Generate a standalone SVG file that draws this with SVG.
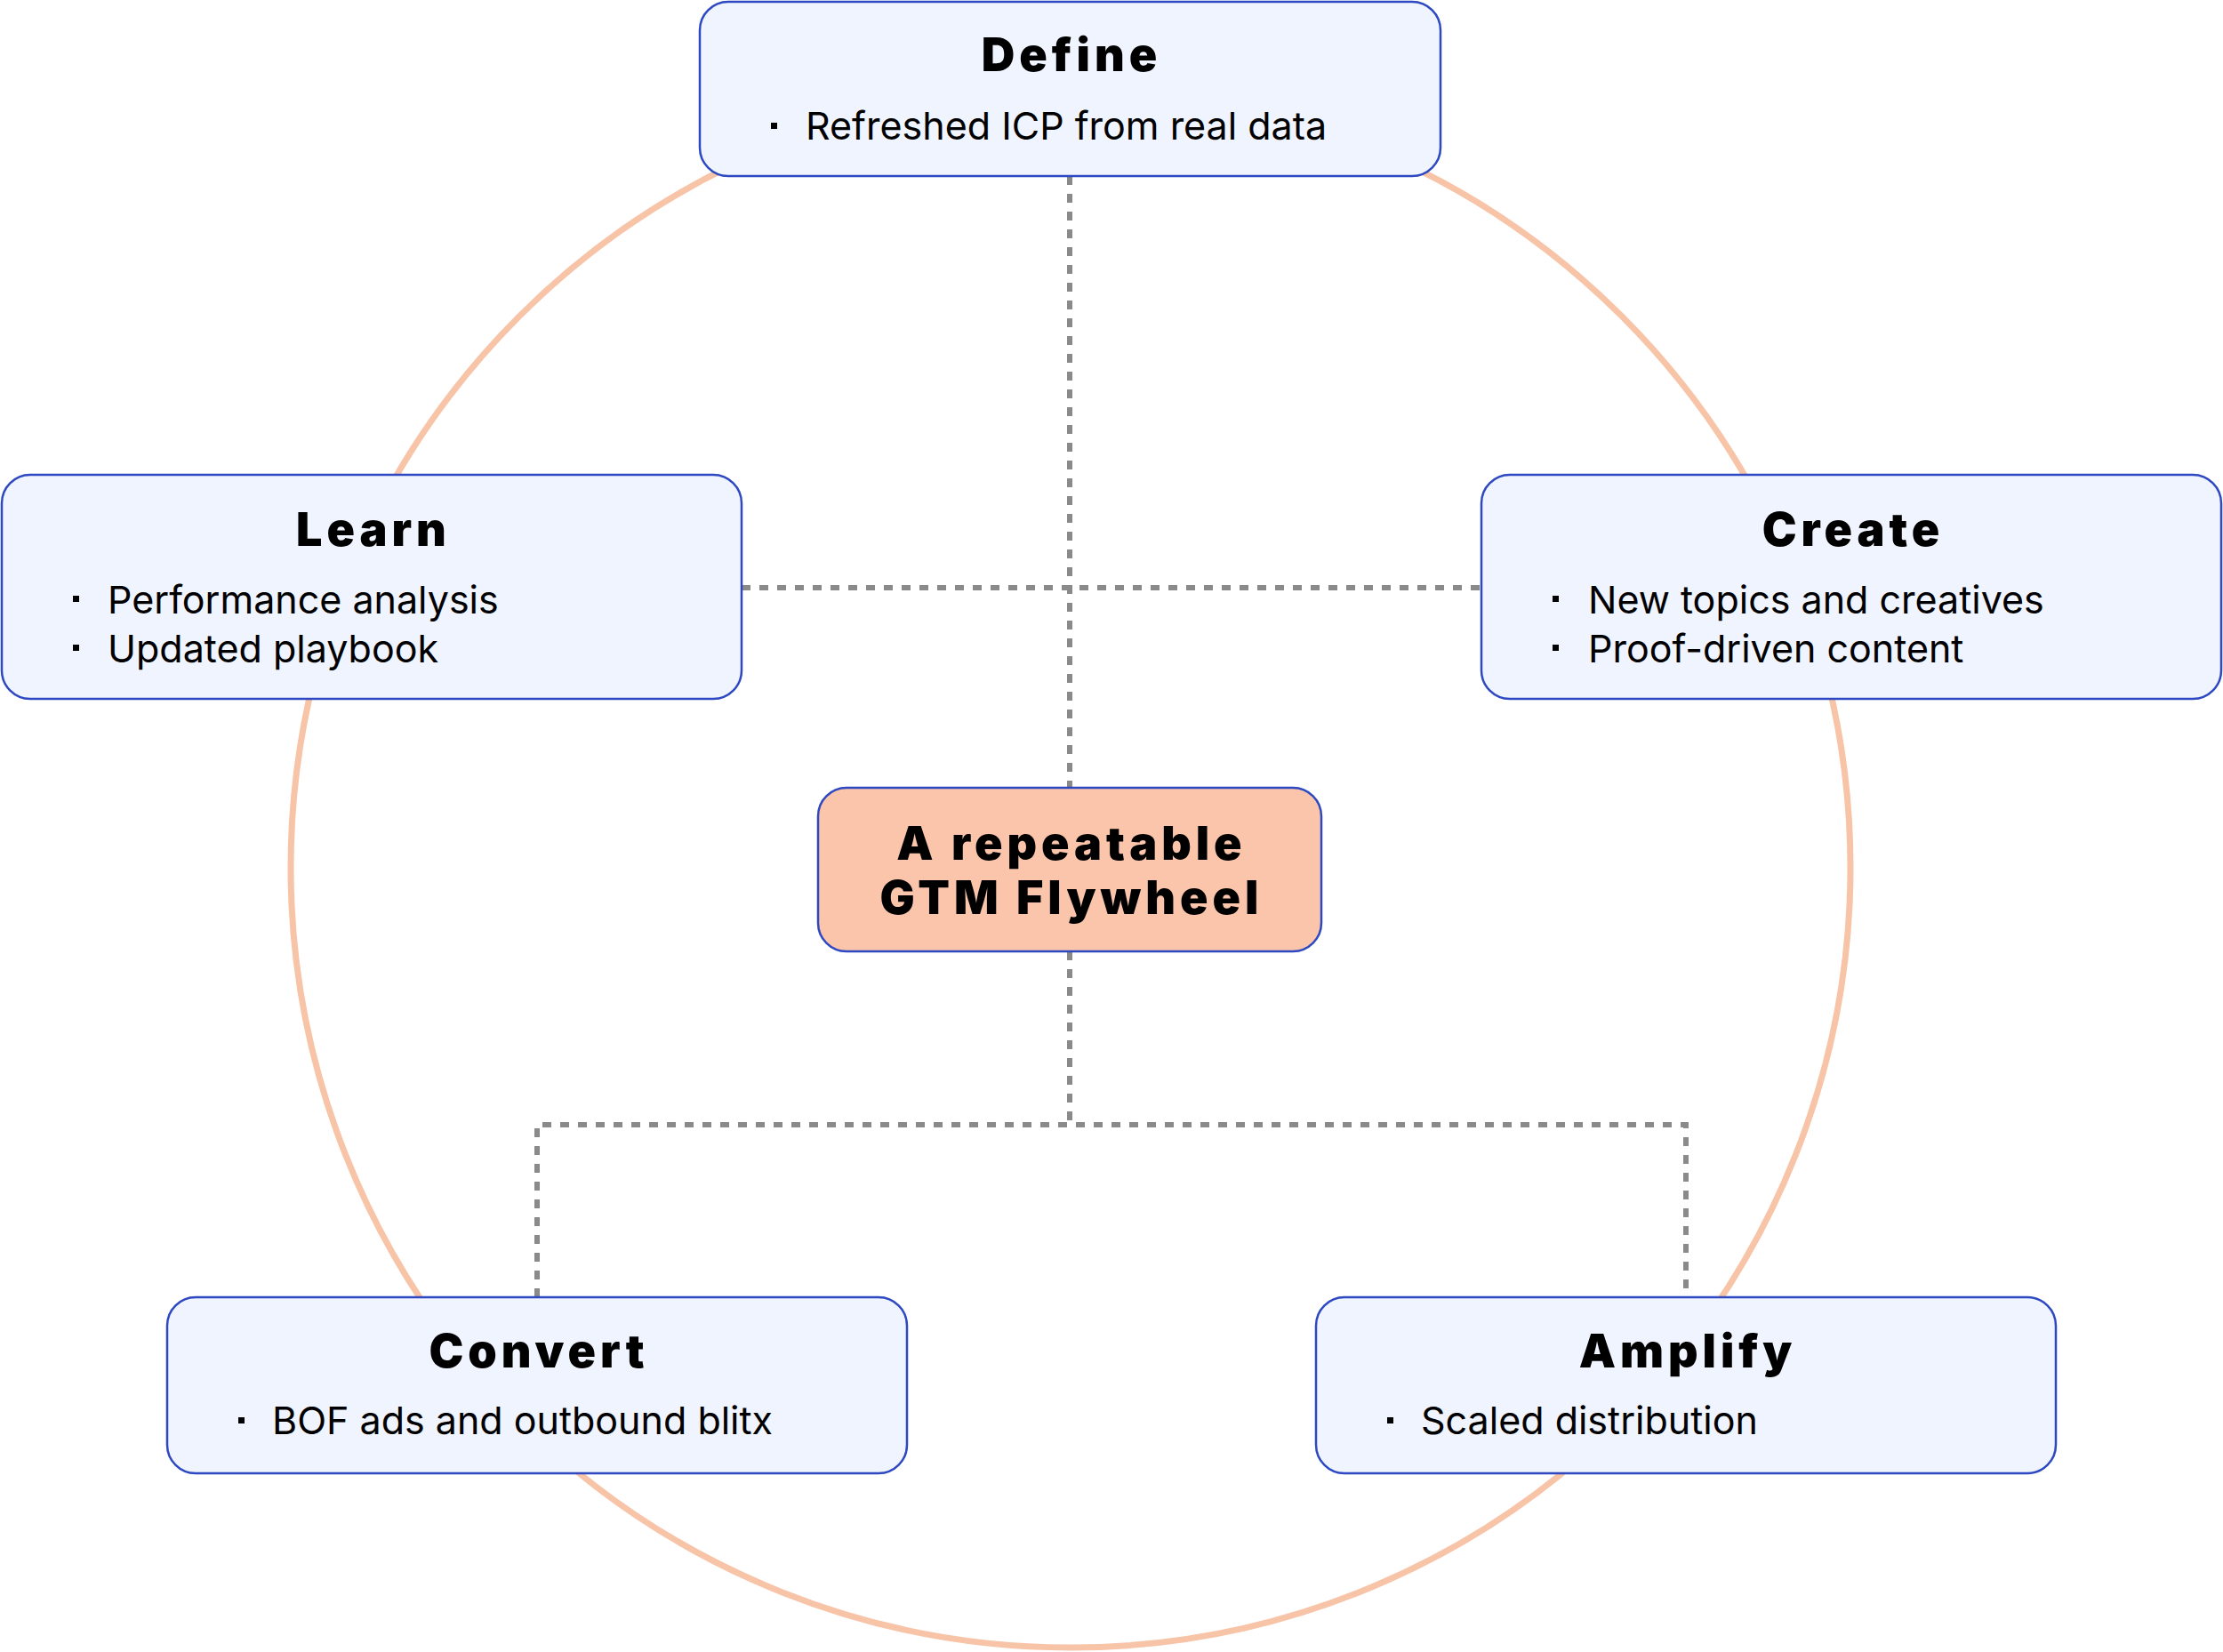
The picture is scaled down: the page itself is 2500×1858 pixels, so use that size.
<svg xmlns="http://www.w3.org/2000/svg" width="2500" height="1858" viewBox="0 0 2500 1858">
<style>
.box{fill:#EFF4FE;stroke:#2E48C2;stroke-width:2.5}
.hub{fill:#FBC5AB;stroke:#2E48C2;stroke-width:2.5}
.title{font-family:Inter,"Liberation Sans",sans-serif;font-weight:900;font-size:52px;fill:#000;text-anchor:middle;letter-spacing:5px}
.item{font-family:Inter,"Liberation Sans",sans-serif;font-weight:400;font-size:43px;fill:#000}
.dot{fill:#000}
.conn{fill:none;stroke:#8A8A8A;stroke-width:6;stroke-dasharray:10 10}
</style>
<rect width="2500" height="1858" fill="#FFFFFF"/>
<circle id="ring" cx="1204" cy="976" r="877" fill="none" stroke="#F8C4A8" stroke-width="7"/>
<g id="connectors">
<line class="conn" x1="1203" y1="198" x2="1203" y2="886"/>
<line class="conn" x1="834" y1="661" x2="1666" y2="661"/>
<line class="conn" x1="1203" y1="1070" x2="1203" y2="1265"/>
<polyline class="conn" points="604,1459 604,1265 1896,1265 1896,1459"/>
</g>
<g id="define">
<rect class="box" x="787" y="2" width="833" height="196" rx="32"/>
<text class="title" x="1205" y="80">Define</text>
<rect class="dot" x="867" y="138" width="7" height="7"/>
<text class="item" x="906" y="157">Refreshed ICP from real data</text>
</g>
<g id="learn">
<rect class="box" x="2" y="534" width="832" height="252" rx="32"/>
<text class="title" x="420" y="614">Learn</text>
<rect class="dot" x="82" y="670" width="7" height="7"/>
<text class="item" x="121" y="690">Performance analysis</text>
<rect class="dot" x="82" y="725" width="7" height="7"/>
<text class="item" x="121" y="745">Updated playbook</text>
</g>
<g id="create">
<rect class="box" x="1666" y="534" width="832" height="252" rx="32"/>
<text class="title" x="2084" y="614">Create</text>
<rect class="dot" x="1746" y="670" width="7" height="7"/>
<text class="item" x="1786" y="690">New topics and creatives</text>
<rect class="dot" x="1746" y="725" width="7" height="7"/>
<text class="item" x="1786" y="745">Proof-driven content</text>
</g>
<g id="hub">
<rect class="hub" x="920" y="886" width="566" height="184" rx="32"/>
<text class="title" x="1205" y="967">A repeatable</text>
<text class="title" x="1205" y="1028">GTM Flywheel</text>
</g>
<g id="convert">
<rect class="box" x="188" y="1459" width="832" height="198" rx="32"/>
<text class="title" x="606" y="1538">Convert</text>
<rect class="dot" x="268" y="1594" width="7" height="7"/>
<text class="item" x="306" y="1613">BOF ads and outbound blitx</text>
</g>
<g id="amplify">
<rect class="box" x="1480" y="1459" width="832" height="198" rx="32"/>
<text class="title" x="1898" y="1538">Amplify</text>
<rect class="dot" x="1560" y="1594" width="7" height="7"/>
<text class="item" x="1598" y="1613">Scaled distribution</text>
</g>
</svg>
